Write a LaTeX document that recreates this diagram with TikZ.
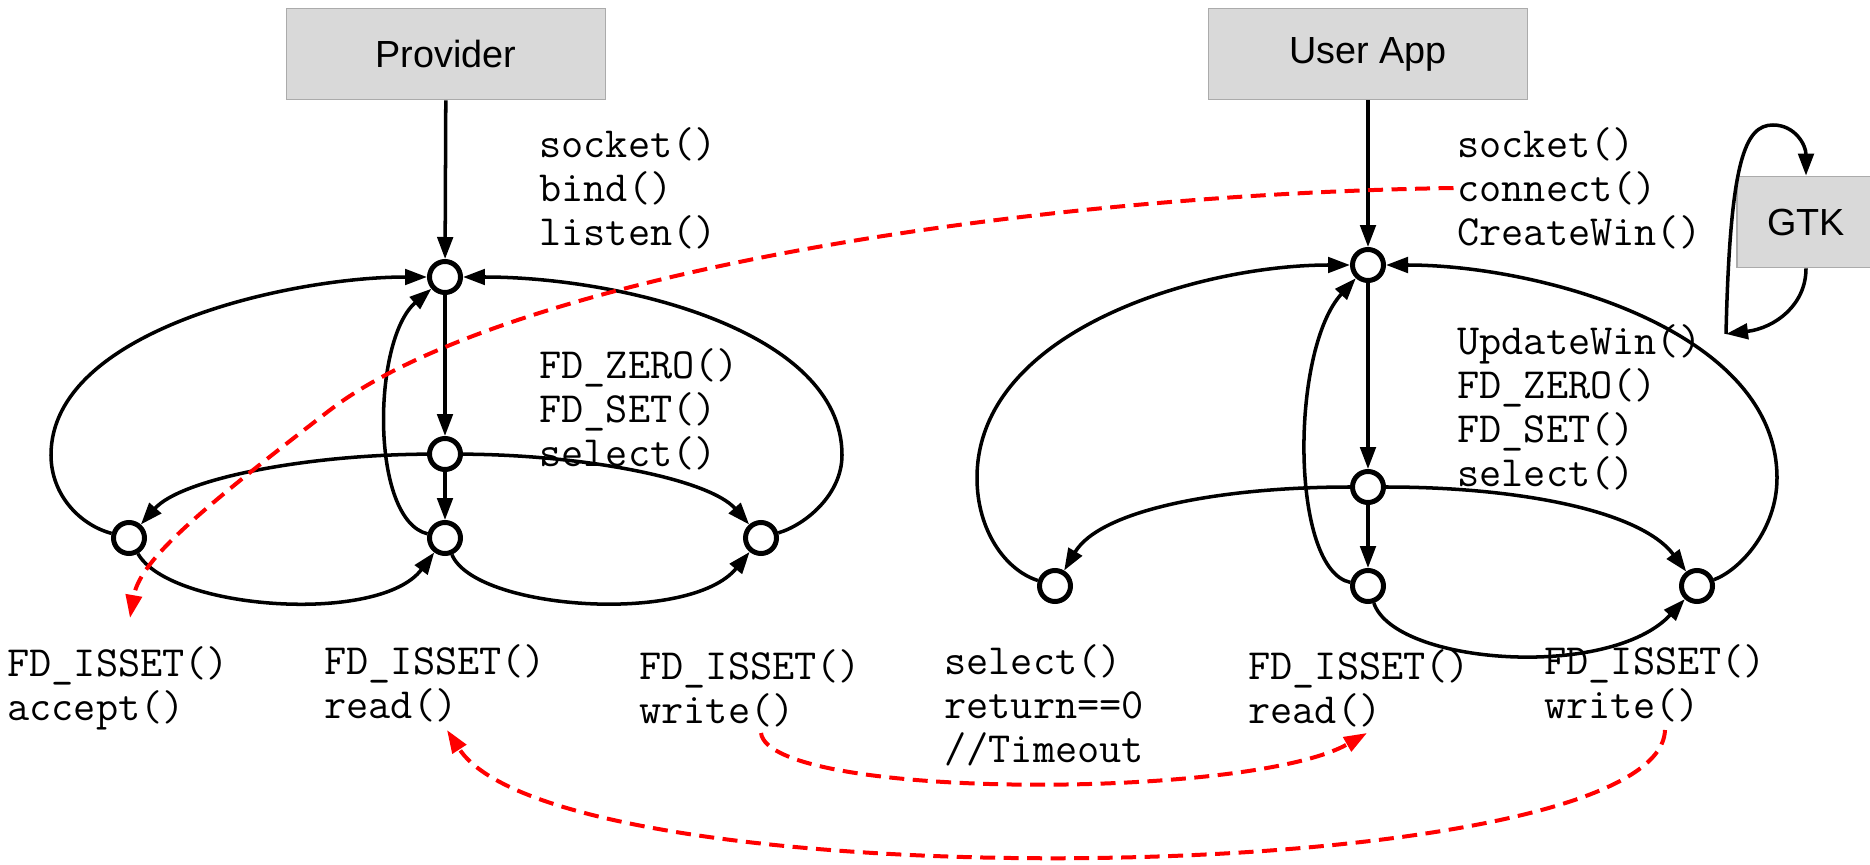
\documentclass[tikz,border=0pt]{standalone}
\usepackage{fontspec}
\setmainfont{Liberation Sans}
\usetikzlibrary{arrows.meta}
\definecolor{boxfill}{HTML}{D9D9D9}
\definecolor{boxline}{HTML}{ABABAB}
\begin{document}
\begin{tikzpicture}[x=0.02cm,y=-0.02cm,
  box/.style={draw=boxline, line width=1pt, fill=boxfill, minimum width=6.38cm, minimum height=1.82cm, font=\fontsize{21.5}{25}\selectfont, inner sep=0pt},
  st/.style={circle, draw=black, line width=0.1cm, fill=white, minimum size=0.62cm, inner sep=0pt},
  arr/.style={line width=2pt, -{Triangle[length=0.44cm,width=0.31cm]}},
  rdash/.style={draw=red, line width=0.08cm, dash pattern=on 0.3cm off 0.17cm, -{Triangle[length=0.46cm,width=0.32cm]}},
  lbl/.style={font=\ttfamily\fontsize{24.5}{25}\selectfont, align=left, anchor=west, inner sep=0pt}
]
\useasboundingbox (0,0) rectangle (1870,865);
\clip (0,0) rectangle (1870,865);

% boxes
\node[box] (prov) at (446,54) {Provider};
\node[box] (uapp) at (1368,54) {User App};
\node[box, minimum width=2.76cm] (gtk) at (1806,222) {GTK};

% states
\node[st] (p0) at (445,277) {};
\node[st] (p1) at (445,454) {};
\node[st] (p2) at (445,538) {};
\node[st] (pl) at (129,538) {};
\node[st] (pr) at (761,538) {};
\node[st] (u0) at (1368,265) {};
\node[st] (u1) at (1368,487) {};
\node[st] (u2) at (1368,586) {};
\node[st] (ul) at (1055,586) {};
\node[st] (ur) at (1697,586) {};

% labels
\node[lbl] (lp1) at (539,188) {socket()\\bind()\\listen()};
\node[lbl] (lp2) at (539,409) {FD\_ZERO()\\FD\_SET()\\select()};
\node[lbl] (lp3) at (7,688) {FD\_ISSET()\\accept()};
\node[lbl] (lp4) at (324,683) {FD\_ISSET()\\read()};
\node[lbl] (lp5) at (639,688) {FD\_ISSET()\\write()};
\node[lbl] (lu1) at (1457,188) {socket()\\connect()\\CreateWin()};
\node[lbl] (lu2) at (1457,407) {UpdateWin()\\FD\_ZERO()\\FD\_SET()\\select()};
\node[lbl] (lu3) at (944,705) {select()\\return==0\\//Timeout};
\node[lbl] (lu4) at (1248,688) {FD\_ISSET()\\read()};
\node[lbl] (lu5) at (1544,683) {FD\_ISSET()\\write()};

% provider edges
\draw[arr] (prov) -- (p0);
\draw[arr] (p0) -- (p1);
\draw[arr] (p1) -- (p2);
\draw[arr] (p1) .. controls (300,455) and (180,480) .. (pl);
\draw[arr] (p1) .. controls (590,455) and (710,480) .. (pr);
\draw[arr] (pl) .. controls (80,525) and (51,495) .. (51,455) .. controls (51,330) and (290,277) .. (p0);
\draw[arr] (pr) .. controls (805,525) and (842,495) .. (842,455) .. controls (842,330) and (620,277) .. (p0);
\draw[arr] (p2) .. controls (370,520) and (372,340) .. (p0);
\draw[arr] (pl) .. controls (170,610) and (380,625) .. (p2);
\draw[arr] (p2) .. controls (475,610) and (690,625) .. (pr);

% user app edges
\draw[arr] (uapp) -- (u0);
\draw[arr] (u0) -- (u1);
\draw[arr] (u1) -- (u2);
\draw[arr] (u1) .. controls (1220,487) and (1100,510) .. (ul);
\draw[arr] (u1) .. controls (1516,487) and (1640,510) .. (ur);
\draw[arr] (ul) .. controls (1005,570) and (977,530) .. (977,478) .. controls (977,330) and (1200,265) .. (u0);
\draw[arr] (ur) .. controls (1740,570) and (1777,530) .. (1777,478) .. controls (1777,330) and (1540,265) .. (u0);
\draw[arr] (u2) .. controls (1290,570) and (1290,350) .. (u0);
\draw[arr] (u2) .. controls (1395,665) and (1610,680) .. (ur);

% GTK loop
\coordinate (gp) at (1726,334);
\draw[arr] (gtk.south) .. controls (1806,305) and (1775,328) .. (gp);
\draw[arr] (gp) .. controls (1730,160) and (1745,125) .. (1773,125) .. controls (1795,125) and (1806,145) .. (gtk.north);

% red dashed
\coordinate (accA) at (130,618);
\coordinate (wr1) at (761,733);
\coordinate (rd2) at (1367,733);
\coordinate (wr2) at (1665,730);
\coordinate (rd1) at (447,730);
\draw[rdash] ([xshift=-2pt]lu1.west) .. controls (1000,195) and (500,280) .. (330,410) .. controls (200,510) and (140,560) .. (accA);
\draw[rdash] (wr1) .. controls (770,800) and (1250,800) .. (rd2);
\draw[rdash] (wr2) .. controls (1660,890) and (560,905) .. (rd1);
\end{tikzpicture}
\end{document}
